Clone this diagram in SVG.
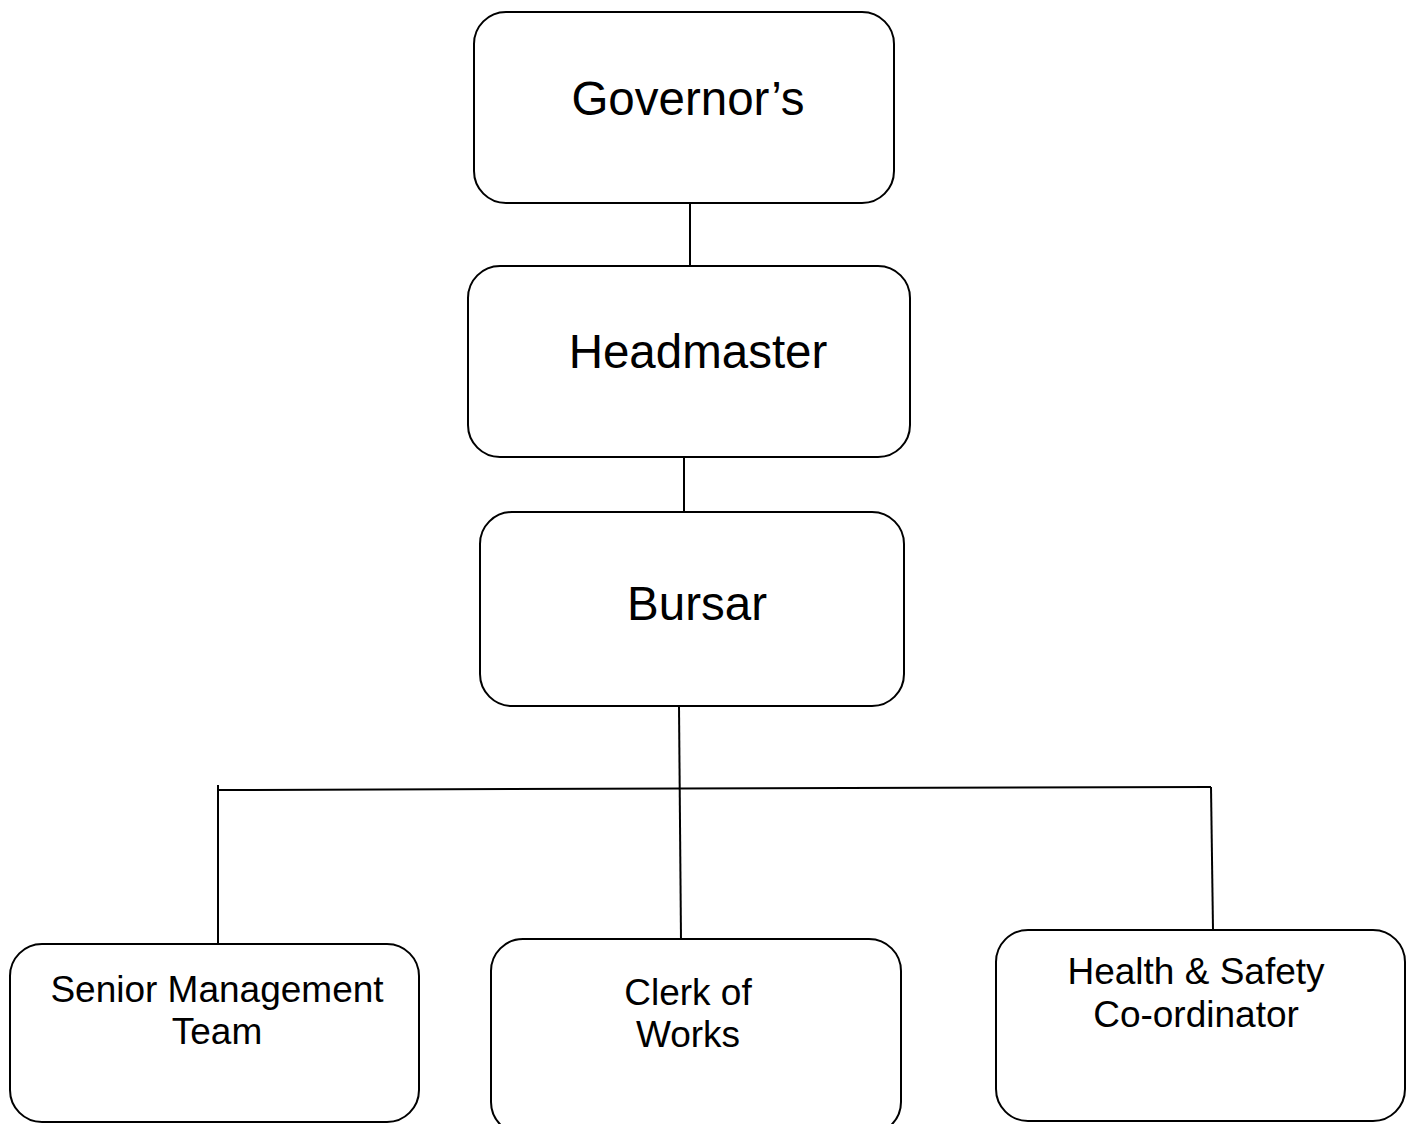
<svg xmlns="http://www.w3.org/2000/svg" width="1413" height="1124" viewBox="0 0 1413 1124">
<style>
.box{fill:#fff;stroke:#000;stroke-width:2}
.ln{stroke:#000;stroke-width:2;fill:none}
.big{font-family:"Liberation Sans",Arial,sans-serif;font-size:47.5px;text-anchor:middle;fill:#000}
.sm{font-family:"Liberation Sans",Arial,sans-serif;font-size:37px;text-anchor:middle;fill:#000}
</style>
<rect width="1413" height="1124" fill="#fff"/>
<g id="connectors">
<line class="ln" x1="690" y1="203" x2="690" y2="266"/>
<line class="ln" x1="684" y1="455" x2="684" y2="515"/>
<line class="ln" x1="679" y1="706" x2="681" y2="940"/>
<line class="ln" x1="218" y1="790" x2="1211" y2="787"/>
<line class="ln" x1="218" y1="785" x2="218" y2="945"/>
<line class="ln" x1="1211" y1="787" x2="1213" y2="930"/>
</g>
<g id="governors">
<rect class="box" x="474" y="12" width="420" height="191" rx="32"/>
<text class="big" x="688" y="115">Governor’s</text>
</g>
<g id="headmaster">
<rect class="box" x="468" y="266" width="442" height="191" rx="32"/>
<text class="big" x="698" y="368">Headmaster</text>
</g>
<g id="bursar">
<rect class="box" x="480" y="512" width="424" height="194" rx="32"/>
<text class="big" x="697" y="620">Bursar</text>
</g>
<g id="smt">
<rect class="box" x="10" y="944" width="409" height="178" rx="32"/>
<text class="sm" x="217" y="1002">Senior Management</text>
<text class="sm" x="217" y="1044">Team</text>
</g>
<g id="clerk">
<rect class="box" x="491" y="939" width="410" height="195" rx="32"/>
<text class="sm" x="688" y="1005">Clerk of</text>
<text class="sm" x="688" y="1047">Works</text>
</g>
<g id="hs">
<rect class="box" x="996" y="930" width="409" height="191" rx="32"/>
<text class="sm" x="1196" y="984">Health &amp; Safety</text>
<text class="sm" x="1196" y="1027">Co-ordinator</text>
</g>
</svg>
